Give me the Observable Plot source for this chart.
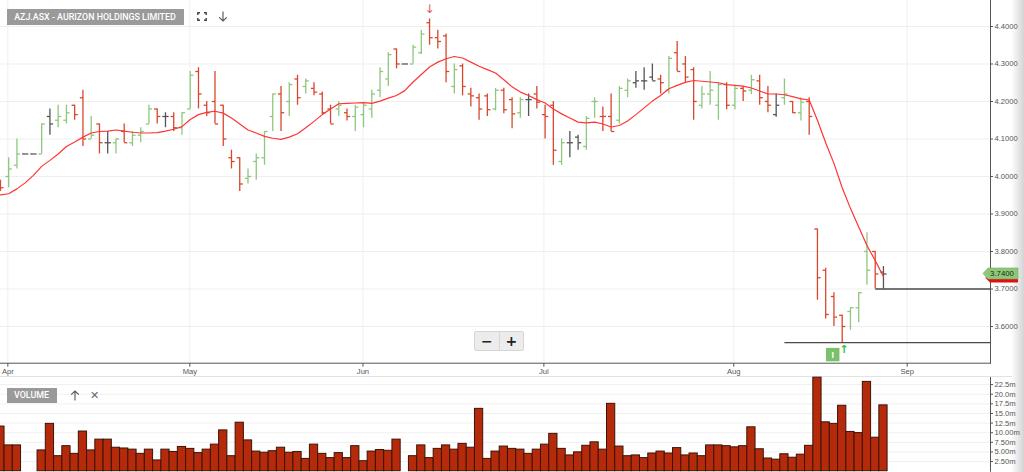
<!DOCTYPE html>
<html>
<head>
<meta charset="utf-8">
<script src="https://cdn.jsdelivr.net/npm/d3@7"></script>
<script src="https://cdn.jsdelivr.net/npm/@observablehq/plot@0.6"></script>
<style>
  body { margin: 0; background: #fff; }
  #wrap { position: relative; width: 1024px; height: 472px; overflow: hidden; background: #fff; }
  #price, #vol { position: absolute; left: 0; }
  #price { top: 0; }
  #vol { top: 377px; }
  .box { position: absolute; background: #9a9a9a; color: #fff; font-family: Roboto, "Liberation Sans", sans-serif;
         font-size: 8.9px; font-weight: 500; display: flex; align-items: center; justify-content: center; }
  .icon { position: absolute; color: #666; font-family: "DejaVu Sans", sans-serif; font-size: 11px; line-height: 11px; }
  .svgicon { position: absolute; }
  #zoomer { position: absolute; left: 474px; top: 331px; width: 48px; height: 18px; background: #ececec;
            border: 1px solid #d6d6d6; border-radius: 2px; display: flex; font-family: "DejaVu Sans", sans-serif; }
  #zoomer span { flex: 1; display: flex; align-items: center; justify-content: center; font-weight: bold; font-size: 14px; color: #222; }
  #zoomer span + span { border-left: 1px solid #d6d6d6; }
  #edge { position: absolute; left: 1011px; top: 0; width: 13px; height: 472px;
          background: linear-gradient(to right, #ffffff, #d4d4d4); }
  #sep { position: absolute; left: 0; top: 375.5px; width: 1012px; height: 1.5px; background: #e2e2e2; }
</style>
</head>
<body>
<div id="wrap">
  <div id="edge"></div>
  <div id="price"></div>
  <div id="sep"></div>
  <div id="vol"></div>
  <div class="box" style="left:6.5px;top:8.5px;width:177px;height:16.5px;">AZJ.ASX - AURIZON HOLDINGS LIMITED</div>
  <svg class="svgicon" style="left:197px;top:12px" width="10" height="9" viewBox="0 0 10 9">
    <path d="M0.8 3V0.8H3M7 0.8H9.2V3M9.2 6V8.2H7M3 8.2H0.8V6" fill="none" stroke="#444" stroke-width="1.4"/>
  </svg>
  <svg class="svgicon" style="left:218px;top:11px" width="10" height="11" viewBox="0 0 10 11">
    <path d="M5 0.5V10M1.2 6.3L5 10L8.8 6.3" fill="none" stroke="#555" stroke-width="1.1"/>
  </svg>
  <div class="box" style="left:6.5px;top:387.5px;width:50px;height:15.5px;">VOLUME</div>
  <svg class="svgicon" style="left:70px;top:390px" width="10" height="11" viewBox="0 0 10 11">
    <path d="M5 10.5V1M1.2 4.7L5 1L8.8 4.7" fill="none" stroke="#555" stroke-width="1.1"/>
  </svg>
  <div class="icon" style="left:90px;top:390px;">✕</div>
  <div id="zoomer"><span>−</span><span>+</span></div>
</div>
<script>
// ---- data ----
const opens  = [3.98,4.00,4.03,4.06,4.06,4.06,4.16,4.15,4.15,4.19,4.21,4.10,4.14,4.09,4.09,4.12,4.09,4.11,4.14,4.18,
                4.16,4.16,4.13,4.18,4.28,4.19,4.20,4.19,4.05,4.05,3.995,4.04,4.05,4.16,4.22,4.20,4.26,4.24,4.235,4.22,
                4.18,4.18,4.17,4.16,4.165,4.18,4.23,4.26,4.34,4.30,4.30,4.33,4.41,4.37,4.375,4.24,4.295,4.22,4.21,4.215,
                4.18,4.23,4.205,4.17,4.205,4.22,4.165,4.19,4.04,4.09,4.105,4.08,4.20,4.16,4.16,4.15,4.23,4.25,4.255,4.265,
                4.26,4.23,4.33,4.30,4.285,4.19,4.22,4.19,4.245,4.19,4.235,4.23,4.255,4.20,4.165,4.21,4.20,4.17,4.20,3.86,
                3.75,3.68,3.63,3.64,3.65,3.80,3.80,3.745];
const highs  = [3.99,4.05,4.10,4.06,4.06,4.14,4.18,4.19,4.19,4.19,4.23,4.16,4.14,4.12,4.10,4.14,4.12,4.13,4.19,4.18,
                4.17,4.17,4.17,4.28,4.29,4.20,4.28,4.19,4.07,4.05,4.02,4.06,4.12,4.22,4.24,4.25,4.27,4.26,4.25,4.225,
                4.19,4.20,4.18,4.19,4.195,4.23,4.29,4.33,4.34,4.30,4.35,4.39,4.42,4.39,4.38,4.30,4.30,4.235,4.22,4.22,
                4.235,4.235,4.21,4.21,4.22,4.24,4.19,4.20,4.10,4.12,4.11,4.16,4.21,4.185,4.22,4.24,4.26,4.28,4.29,4.30,
                4.27,4.32,4.36,4.32,4.29,4.24,4.28,4.25,4.25,4.24,4.24,4.27,4.27,4.24,4.22,4.26,4.20,4.21,4.21,3.86,
                3.755,3.69,3.63,3.65,3.69,3.85,3.80,3.76];
const lows   = [3.96,3.97,4.02,4.06,4.06,4.06,4.11,4.13,4.14,4.15,4.08,4.10,4.06,4.06,4.06,4.09,4.08,4.09,4.14,4.14,
                4.13,4.12,4.11,4.18,4.18,4.16,4.14,4.08,4.02,3.96,3.98,3.99,4.03,4.12,4.12,4.16,4.19,4.22,4.215,4.165,
                4.14,4.16,4.148,4.12,4.13,4.155,4.21,4.24,4.287,4.30,4.30,4.325,4.35,4.34,4.25,4.22,4.215,4.185,4.15,4.16,
                4.175,4.167,4.127,4.155,4.16,4.18,4.10,4.03,4.03,4.05,4.07,4.07,4.155,4.12,4.12,4.14,4.21,4.235,4.23,4.255,
                4.22,4.22,4.28,4.25,4.15,4.18,4.19,4.15,4.178,4.178,4.20,4.218,4.19,4.17,4.158,4.19,4.168,4.148,4.11,3.67,
                3.62,3.60,3.557,3.59,3.61,3.71,3.70,3.70];
const closes = [3.97,4.02,4.06,4.06,4.06,4.14,4.14,4.16,4.17,4.165,4.10,4.11,4.09,4.09,4.10,4.09,4.11,4.12,4.18,4.16,
                4.16,4.13,4.17,4.27,4.22,4.17,4.14,4.10,4.04,3.98,4.00,4.05,4.12,4.22,4.17,4.245,4.21,4.255,4.225,4.17,
                4.14,4.19,4.16,4.185,4.19,4.22,4.28,4.325,4.30,4.30,4.345,4.38,4.37,4.36,4.28,4.285,4.24,4.215,4.18,4.178,
                4.23,4.178,4.167,4.205,4.205,4.198,4.16,4.07,4.09,4.09,4.09,4.155,4.20,4.16,4.12,4.235,4.255,4.255,4.255,4.255,
                4.25,4.315,4.28,4.265,4.20,4.22,4.23,4.245,4.19,4.235,4.228,4.258,4.21,4.19,4.19,4.22,4.17,4.198,4.16,3.73,
                3.632,3.625,3.60,3.65,3.69,3.75,3.74,3.74];
const movingAverage = [3.951,3.954,3.967,3.983,4.003,4.027,4.043,4.060,4.080,4.092,4.105,4.116,4.120,4.121,4.124,4.121,4.118,4.116,4.116,4.117,
                4.121,4.126,4.133,4.152,4.165,4.171,4.174,4.169,4.156,4.140,4.124,4.116,4.107,4.102,4.099,4.105,4.114,4.130,4.147,4.165,
                4.180,4.194,4.195,4.196,4.197,4.195,4.201,4.209,4.216,4.229,4.252,4.272,4.292,4.305,4.314,4.320,4.316,4.305,4.294,4.285,
                4.276,4.258,4.239,4.225,4.216,4.205,4.196,4.180,4.167,4.156,4.145,4.143,4.145,4.140,4.132,4.136,4.148,4.165,4.183,4.201,
                4.216,4.234,4.243,4.251,4.256,4.254,4.252,4.250,4.245,4.243,4.241,4.236,4.228,4.220,4.220,4.218,4.213,4.207,4.204,4.150,
                4.090,4.035,3.970,3.915,3.865,3.816,3.776,3.733];
// volume in millions of shares
const volumes = [11.6,6.7,6.7,0,0,5.4,12.3,3.9,6.5,4.5,10.3,5.4,8.2,8.2,6.1,5.9,5.6,4.5,5.6,2.8,
                5.6,5.0,6.3,5.8,4.7,5.6,6.9,10.6,3.9,12.6,8.0,5.1,4.8,5.2,6.1,4.8,5.0,3.2,6.9,4.5,
                3.4,4.7,3.4,6.5,2.6,5.1,5.5,5.3,8.2,0,3.9,6.7,3.4,5.8,6.7,5.6,7.1,6.1,16.2,3.2,
                5.1,6.4,5.8,5.6,4.5,5.6,6.9,9.7,5.8,4.1,4.9,6.6,7.5,5.6,17.5,6.4,3.9,4.1,3.4,4.6,
                5.1,4.6,6.0,4.1,4.6,3.9,6.7,6.7,6.5,6.2,6.5,11.4,5.7,3.3,3.0,4.4,3.5,4.3,6.6,24.3,
                12.7,12.3,17.0,10.2,9.9,23.2,8.7,17.1];
const monthLabels    = ["Apr","May","Jun","Jul","Aug","Sep"];
const monthTickIndex = [0.9, 22.95, 43.93, 65.85, 88.86, 109.87];   // positions in trading-day index
const priceTicks  = [3.6,3.7,3.8,3.9,4.0,4.1,4.2,4.3,4.4];
const volumeTicks = [2.5,5,7.5,10,12.5,15,17.5,20,22.5];
const volumeTickLabels = ["2.50m","5.00m","7.50m","10.00m","12.5m","15.0m","17.5m","20.0m","22.5m"];
const supportLevels = [3.70, 3.557];
const supportFrom   = [106, 95];
const lastPrice = 3.74;
const sellSignalDay = 52;
const buySignalDay  = 102;

// ---- derived table ----
const bars = opens.map((o, i) => ({
  i, o, h: highs[i], l: lows[i], c: closes[i],
  dir: i === 0 ? "down" : closes[i] > closes[i-1] ? "up" : closes[i] < closes[i-1] ? "down" : "flat"
}));
const volRows = volumes.map((v, i) => ({i, v})).filter(d => d.v > 0);

const xDomain = [0.01, 119.97];
const font = "'Liberation Sans', Arial, sans-serif";
const colorScale = {domain: ["up","down","flat"], range: ["#8fc77e","#d8472d","#555555"]};

const price = Plot.plot({
  width: 1024, height: 377,
  marginLeft: 0, marginRight: 34, marginTop: 0, marginBottom: 14.3,
  style: {fontFamily: font, fontSize: "7.6px", color: "#555", background: "transparent", overflow: "visible"},
  x: {domain: xDomain, axis: "bottom", ticks: monthTickIndex,
      tickFormat: d => monthLabels[monthTickIndex.indexOf(d)], tickSize: 4, tickPadding: 1, line: true, label: null},
  y: {domain: [3.5021, 4.4693], axis: "right", ticks: priceTicks, tickFormat: d3.format(".4f"),
      tickSize: 2, tickPadding: 2, line: true, label: null},
  color: colorScale,
  marks: [
    Plot.ruleY(priceTicks, {stroke: "#efefef"}),
    Plot.ruleX(monthTickIndex, {stroke: "#efefef"}),
    Plot.ruleX(bars, {x: "i", y1: "l", y2: "h", stroke: "dir", strokeWidth: 1.3}),
    Plot.link(bars, {x1: d => d.i - 0.38, x2: "i", y1: "o", y2: "o", stroke: "dir", strokeWidth: 1.3}),
    Plot.link(bars, {x1: "i", x2: d => d.i + 0.38, y1: "c", y2: "c", stroke: "dir", strokeWidth: 1.3}),
    Plot.line(movingAverage, {x: (d, i) => i, y: d => d, stroke: "#ff3434", strokeWidth: 1.2}),
    Plot.link(supportLevels, {x1: (d, k) => supportFrom[k], x2: () => xDomain[1], y1: d => d, y2: d => d,
                              stroke: "#4a4a4a", strokeWidth: 1.4}),
    Plot.text([sellSignalDay], {x: d => d, y: d => highs[d], text: () => "↓", dy: -10, fill: "#e35a55",
                                fontSize: 12, fontFamily: "DejaVu Sans"}),
    Plot.dot([buySignalDay], {x: d => d, y: d => lows[d], symbol: "square", r: 7.6, fill: "#79c16a",
                              dx: -9.5, dy: 12}),
    Plot.text([buySignalDay], {x: d => d, y: d => lows[d], text: () => "I", dx: -9.5, dy: 12, fill: "#fff",
                               fontSize: 9, fontWeight: "bold"}),
    Plot.text([buySignalDay], {x: d => d, y: d => lows[d], text: () => "↑", dx: 2, dy: 7, fill: "#2fbf2f",
                               fontSize: 11, fontWeight: "bold", fontFamily: "DejaVu Sans"})
  ]
});
document.getElementById("price").appendChild(price);

// last-price tag on the right axis, placed with the plot's own y scale
{
  const s = price.scale("y");
  const y = d3.scaleLinear().domain(s.domain).range(s.range);
  const yc = y(lastPrice);
  const svg = d3.select(price.tagName.toLowerCase() === "svg" ? price : price.querySelector("svg"));
  const g = svg.append("g");
  g.append("path").attr("d", `M985,${yc+4} L990,${yc+9} L1018,${yc+9} L1018,${yc+4} Z`).attr("fill", "#e01010");
  g.append("path").attr("d", `M983,${yc} L988,${yc-5.5} L1018,${yc-5.5} L1018,${yc+5.5} L988,${yc+5.5} Z`)
    .attr("fill", "#8dc87a").attr("stroke", "#72ad62").attr("stroke-width", 0.6);
  g.append("text").attr("x", 1002).attr("y", yc).attr("dy", "0.35em").attr("text-anchor", "middle")
    .attr("font-size", 7.8).attr("font-family", font).attr("fill", "#1f2a1a").text(d3.format(".4f")(lastPrice));
}

const vol = Plot.plot({
  width: 1024, height: 95,
  marginLeft: 0, marginRight: 34, marginTop: 0, marginBottom: 1.3,
  style: {fontFamily: font, fontSize: "7.6px", color: "#555", background: "transparent", overflow: "visible"},
  x: {domain: xDomain, axis: null},
  y: {domain: [0, 24.34], axis: "right", ticks: volumeTicks,
      tickFormat: d => volumeTickLabels[volumeTicks.indexOf(d)], tickSize: 2, tickPadding: 2, line: true, label: null},
  marks: [
    Plot.ruleY(volumeTicks, {stroke: "#f0f0f0"}),
    Plot.rect(volRows, {x1: d => d.i - 0.5, x2: d => d.i + 0.5, y1: () => 0, y2: "v",
                        fill: "#b62a0c", stroke: "#3a1407", strokeWidth: 1})
  ]
});
document.getElementById("vol").appendChild(vol);
</script>
</body>
</html>
